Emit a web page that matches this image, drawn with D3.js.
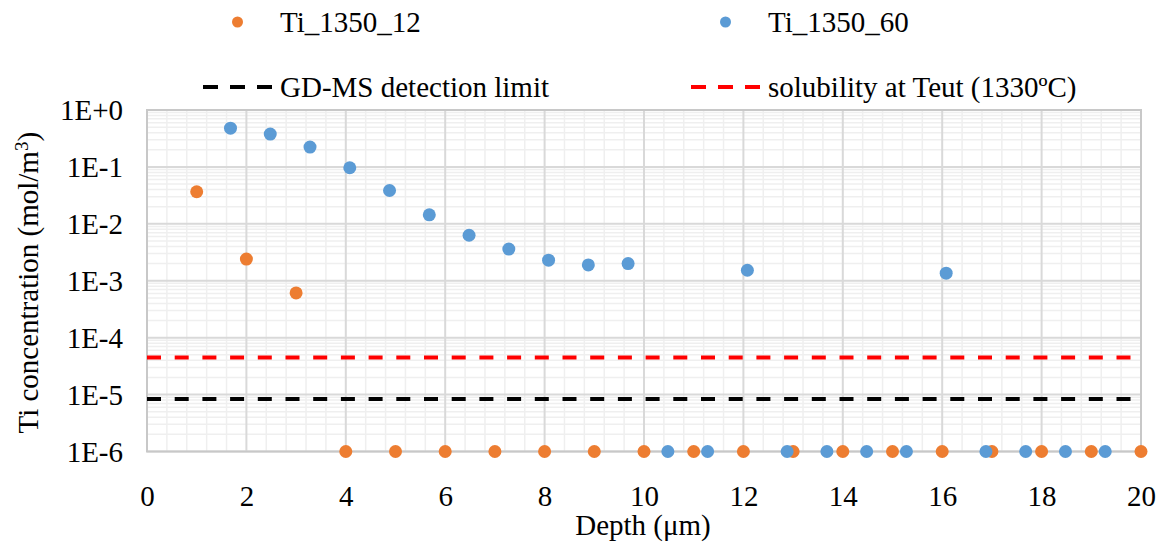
<!DOCTYPE html>
<html>
<head>
<meta charset="utf-8">
<script src="https://cdn.jsdelivr.net/npm/d3@7"></script>
<style>
  html, body { margin: 0; padding: 0; background: #fff; }
  svg text { font-family: "Liberation Serif", "Times New Roman", serif; fill: #000; }
</style>
</head>
<body>
<svg id="chart" width="1163" height="547"></svg>
<script>
// Depth profiles of Ti concentration (mol/m^3)
const depth12 = [1, 2, 3, 4, 5, 6, 7, 8, 9, 10, 11, 12, 13, 14, 15, 16, 17, 18, 19, 20];
const conc12  = [0.0366, 0.0024, 0.00061, 1e-6, 1e-6, 1e-6, 1e-6, 1e-6, 1e-6, 1e-6,
                 1e-6, 1e-6, 1e-6, 1e-6, 1e-6, 1e-6, 1e-6, 1e-6, 1e-6, 1e-6];

const depth60 = [1.68, 2.48, 3.28, 4.08, 4.88, 5.68, 6.48, 7.28, 8.08, 8.88, 9.68, 10.48,
                 11.28, 12.08, 12.88, 13.68, 14.48, 15.28, 16.08, 16.88, 17.68, 18.48, 19.28];
const conc60  = [0.48, 0.378, 0.223, 0.0966, 0.0385, 0.0144, 0.0063, 0.0036, 0.0023, 0.0019,
                 0.002, 1e-6, 1e-6, 0.00153, 1e-6, 1e-6, 1e-6, 1e-6, 0.00136, 1e-6, 1e-6, 1e-6, 1e-6];

// Reference levels
const detectionLimit = 8.4e-6;
const solubilityTeut = 4.5e-5;

const seriesNames = ["Ti_1350_12", "Ti_1350_60"];
const lineNames = ["GD-MS detection limit", "solubility at Teut (1330ºC)"];
const xTicks = [0, 2, 4, 6, 8, 10, 12, 14, 16, 18, 20];
const yTicks = [1, 1e-1, 1e-2, 1e-3, 1e-4, 1e-5, 1e-6];
const yTickLabels = ["1E+0", "1E-1", "1E-2", "1E-3", "1E-4", "1E-5", "1E-6"];

const colors = { s12: "#ed7d31", s60: "#5b9bd5", limit: "#000000", sol: "#ff0000" };
const FS = 29;

const svg = d3.select("#chart");
const plot = { left: 147, right: 1141, top: 110, bottom: 451.5 };

const x = d3.scaleLinear().domain([0, 20]).range([plot.left, plot.right]);
const y = d3.scaleLog().domain([1e-6, 1]).range([plot.bottom, plot.top]);

// Minor gridlines
const minorX = d3.range(0, 20.001, 0.4).map(v => +v.toFixed(2)).filter(v => Math.abs(v / 2 - Math.round(v / 2)) > 1e-6);
const minorY = [];
for (let e = -6; e < 0; e++) for (let m = 2; m <= 9; m++) minorY.push(m * Math.pow(10, e));

const grid = svg.append("g");
grid.selectAll(".mx").data(minorX).join("line")
  .attr("x1", d => x(d)).attr("x2", d => x(d))
  .attr("y1", plot.top).attr("y2", plot.bottom)
  .attr("stroke", "#efefef").attr("stroke-width", 1.5);
grid.selectAll(".my").data(minorY).join("line")
  .attr("x1", plot.left).attr("x2", plot.right)
  .attr("y1", d => y(d)).attr("y2", d => y(d))
  .attr("stroke", "#efefef").attr("stroke-width", 1.5);

// Major gridlines
grid.selectAll(".Mx").data(xTicks).join("line")
  .attr("x1", d => x(d)).attr("x2", d => x(d))
  .attr("y1", plot.top).attr("y2", plot.bottom)
  .attr("stroke", "#d9d9d9").attr("stroke-width", 2);
grid.selectAll(".My").data(yTicks).join("line")
  .attr("x1", plot.left).attr("x2", plot.right)
  .attr("y1", d => y(d)).attr("y2", d => y(d))
  .attr("stroke", "#d9d9d9").attr("stroke-width", 2);

// Plot border
svg.append("rect")
  .attr("x", plot.left).attr("y", plot.top)
  .attr("width", plot.right - plot.left).attr("height", plot.bottom - plot.top)
  .attr("fill", "none").attr("stroke", "#c8c8c8").attr("stroke-width", 2);

// Axes
const xAxis = d3.axisBottom(x).tickValues(xTicks).tickSize(0).tickPadding(0).tickFormat(d3.format("d"));
const gx = svg.append("g").attr("transform", `translate(0,${plot.bottom})`).call(xAxis);
gx.select(".domain").remove();
gx.selectAll("text").attr("font-size", FS).attr("dy", null).attr("y", 54);

const yAxis = d3.axisLeft(y).tickValues(yTicks).tickSize(0).tickPadding(0)
  .tickFormat((d, i) => yTickLabels[i]);
const gy = svg.append("g").attr("transform", `translate(${plot.left - 24},0)`).call(yAxis);
gy.select(".domain").remove();
gy.selectAll("text").attr("font-size", FS).attr("dy", "0.33em");

// Reference lines
const dash = "14,13.7";
svg.append("line")
  .attr("x1", x(0)).attr("x2", x(20))
  .attr("y1", y(solubilityTeut)).attr("y2", y(solubilityTeut))
  .attr("stroke", colors.sol).attr("stroke-width", 4).attr("stroke-dasharray", dash);
svg.append("line")
  .attr("x1", x(0)).attr("x2", x(20))
  .attr("y1", y(detectionLimit)).attr("y2", y(detectionLimit))
  .attr("stroke", colors.limit).attr("stroke-width", 4).attr("stroke-dasharray", dash);

// Scatter series
const pts12 = depth12.map((d, i) => ({ x: d, y: conc12[i] }));
const pts60 = depth60.map((d, i) => ({ x: d, y: conc60[i] }));
svg.append("g").selectAll("circle").data(pts12).join("circle")
  .attr("cx", d => x(d.x)).attr("cy", d => y(d.y)).attr("r", 6.5)
  .attr("fill", colors.s12);
svg.append("g").selectAll("circle").data(pts60).join("circle")
  .attr("cx", d => x(d.x)).attr("cy", d => y(d.y)).attr("r", 6.5)
  .attr("fill", colors.s60);

// Axis titles
svg.append("text")
  .attr("x", (plot.left + plot.right) / 2 - 1).attr("y", 535)
  .attr("text-anchor", "middle").attr("font-size", FS)
  .text("Depth (μm)");

const yt = svg.append("text")
  .attr("transform", `translate(38,${(plot.top + plot.bottom) / 2 + 2}) rotate(-90)`)
  .attr("text-anchor", "middle").attr("font-size", FS);
yt.append("tspan").text("Ti concentration (mol/m");
yt.append("tspan").attr("font-size", 19).attr("dy", -10).text("3");
yt.append("tspan").attr("dy", 10).text(")");

// Legend
const legend = svg.append("g");
const markerLegend = [
  { name: seriesNames[0], color: colors.s12, mx: 237.5, tx: 280 },
  { name: seriesNames[1], color: colors.s60, mx: 725.5, tx: 768 }
];
markerLegend.forEach(d => {
  legend.append("circle").attr("cx", d.mx).attr("cy", 22).attr("r", 5.5).attr("fill", d.color);
  legend.append("text").attr("x", d.tx).attr("y", 32).attr("font-size", FS).text(d.name);
});
const lineLegend = [
  { name: lineNames[0], color: colors.limit, x1: 203, x2: 273, tx: 280 },
  { name: lineNames[1], color: colors.sol, x1: 691, x2: 760, tx: 768 }
];
lineLegend.forEach(d => {
  legend.append("line").attr("x1", d.x1).attr("x2", d.x2).attr("y1", 87).attr("y2", 87)
    .attr("stroke", d.color).attr("stroke-width", 4).attr("stroke-dasharray", "15,12");
  legend.append("text").attr("x", d.tx).attr("y", 97).attr("font-size", FS).text(d.name);
});
</script>
</body>
</html>
